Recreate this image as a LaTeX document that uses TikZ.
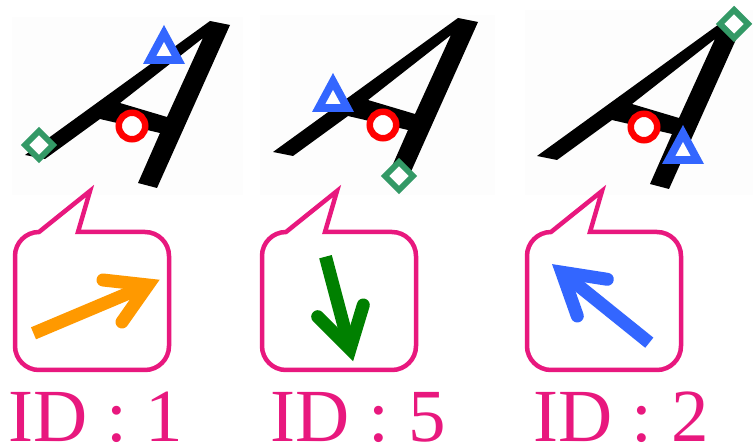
\documentclass[tikz,border=0pt]{standalone}
\usepackage{fontspec}
\setmainfont{Liberation Serif}
\definecolor{pinkc}{RGB}{232,24,126}
\definecolor{bluec}{RGB}{51,102,255}
\definecolor{greenm}{RGB}{51,153,102}
\definecolor{orangec}{RGB}{255,153,0}
\definecolor{greenarrow}{RGB}{0,128,0}
\definecolor{redc}{RGB}{255,0,0}
\definecolor{bgc}{RGB}{253,253,253}
\begin{document}
\begin{tikzpicture}[x=1pt,y=-1pt,
  panelbg/.style={fill=bgc},
  ring/.style={draw=redc, line width=6.5pt, fill=white},
  dia/.style={draw=greenm, line width=6pt, fill=white},
  bubble/.style={draw=pinkc, line width=4.5pt, line join=miter},
  shaftline/.style={line width=13pt, line cap=butt},
  headline/.style={line width=13pt, line cap=round, line join=miter},
  idtext/.style={text=pinkc, font=\fontsize{75}{80}\selectfont, inner sep=0pt, anchor=base west},
  letterA/.pic={\fill[black, even odd rule] (25,155) -- (45,159) -- (100,119) -- (160,133) -- (138,183) -- (157,188) -- (230,25) -- (210,21) -- cycle
      (120,103) -- (203,38) -- (167,117) -- cycle;},
  tripic/.pic={\fill[bluec] (0,0) -- (-21,39) -- (21,39) -- cycle;
      \fill[white] (0,16.9) -- (-7.6,31) -- (7.6,31) -- cycle;},
  diapic/.pic={\draw[dia] (0,-14) -- (14,0) -- (0,14) -- (-14,0) -- cycle;},
  bubblepic/.pic={\draw[bubble] (78,232) -- (90,191) -- (39,232)
      arc[start angle=270, end angle=180, radius=24] -- (15,346)
      arc[start angle=180, end angle=90, radius=24] -- (145,370)
      arc[start angle=90, end angle=0, radius=24] -- (169,256)
      arc[start angle=0, end angle=-90, radius=24] -- cycle;},
]
\useasboundingbox (0,0) rectangle (753,446);
\fill[white] (0,0) rectangle (753,446);
% faint panel backgrounds
\fill[panelbg] (12,17) rectangle (243,195);
\fill[panelbg] (260,15) rectangle (495,195);
\fill[panelbg] (525,10) rectangle (753,195);
% letters A
\pic at (0,0) {letterA};
\pic at (248,-3) {letterA};
\pic at (512,1) {letterA};
% markers panel 1
\pic at (164,25) {tripic};
\draw[ring] (132,126) circle[radius=13.25];
\pic at (39,145) {diapic};
% markers panel 2
\pic at (333,73) {tripic};
\draw[ring] (383,125) circle[radius=13.25];
\pic at (399,176) {diapic};
% markers panel 3
\pic at (734,24) {diapic};
\draw[ring] (644,127) circle[radius=13.25];
\pic at (683,125) {tripic};
% bubbles
\pic at (0,0) {bubblepic};
\pic at (247,0) {bubblepic};
\pic at (512,0) {bubblepic};
% arrows
\coordinate (o0) at (33.5,333.3);
\coordinate (ov) at (148,285);
\coordinate (o1) at (103,280);
\coordinate (o2) at (122,322);
\draw[shaftline, orangec] (o0) -- (ov);
\draw[headline, orangec] (o1) -- (ov) -- (o2);
\coordinate (g0) at (325.5,256.7);
\coordinate (gv) at (350,349);
\coordinate (g1) at (317.7,316.7);
\coordinate (g2) at (363.3,305);
\draw[shaftline, greenarrow] (g0) -- (gv);
\draw[headline, greenarrow] (g1) -- (gv) -- (g2);
\coordinate (b0) at (649.3,342.7);
\coordinate (bv) at (561.8,272.2);
\coordinate (b1) at (607.3,279.3);
\coordinate (b2) at (577.3,316);
\draw[shaftline, bluec] (b0) -- (bv);
\draw[headline, bluec] (b1) -- (bv) -- (b2);
% labels
\node[idtext] (id1) at (8,441.7) {ID : 1};
\node[idtext] (id5) at (270.4,441.7) {ID : 5};
\node[idtext] (id2) at (533.7,441.7) {ID : 2};
\end{tikzpicture}
\end{document}
